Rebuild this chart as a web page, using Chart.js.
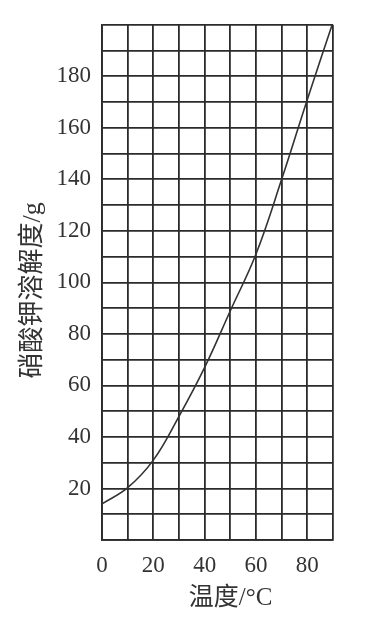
<!DOCTYPE html>
<html>
<head>
<meta charset="utf-8">
<script src="https://cdn.jsdelivr.net/npm/chart.js@4/dist/chart.umd.min.js"></script>
<style>
  html, body { margin: 0; padding: 0; background: #fff; }
  #wrap { width: 368px; height: 619px; position: relative; }
</style>
</head>
<body>
<div id="wrap"><canvas id="c" width="368" height="619"></canvas></div>
<script>
// Data
const temperatures = [0, 10, 20, 30, 40, 50, 60, 70, 80, 90];
const solubility = [14, 20.3, 31, 48, 67, 89, 111, 140, 171, 201];
const xTickLabels = [0, 20, 40, 60, 80];
const yTickLabels = [20, 40, 60, 80, 100, 120, 140, 160, 180];
const xTitle = '温度/°C';
const yTitle = '硝酸钾溶解度/g';

const ink = '#2b2b2b';
const serif = '"Liberation Serif", "DejaVu Serif", "Noto Sans CJK SC", serif';

const titlesPlugin = {
  id: 'axisTitles',
  afterDraw(chart) {
    const ctx = chart.ctx;
    const area = chart.chartArea;
    ctx.save();
    ctx.fillStyle = '#333';
    ctx.textAlign = 'center';
    ctx.textBaseline = 'middle';
    ctx.font = '25px ' + serif;
    ctx.fillText(xTitle, (area.left + area.right) / 2 + 13, 598);
    ctx.font = '26px ' + serif;
    ctx.translate(33, (area.top + area.bottom) / 2 + 8);
    ctx.rotate(-Math.PI / 2);
    ctx.fillText(yTitle, 0, 0);
    ctx.restore();
  }
};

new Chart(document.getElementById('c'), {
  type: 'line',
  data: {
    datasets: [{
      data: temperatures.map((t, i) => ({ x: t, y: solubility[i] })),
      borderColor: '#333',
      borderWidth: 1.6,
      pointRadius: 0,
      fill: false,
      tension: 0.4
    }]
  },
  options: {
    responsive: false,
    animation: false,
    devicePixelRatio: 1,
    layout: { padding: { left: 0, right: 35, top: 22, bottom: 0 } },
    plugins: { legend: { display: false }, tooltip: { enabled: false } },
    scales: {
      x: {
        type: 'linear',
        min: 0, max: 90,
        afterFit(scale) { scale.height = 79; },
        grid: { color: ink, lineWidth: 1.8, drawTicks: false },
        border: { color: ink, width: 1.8 },
        ticks: {
          stepSize: 10,
          autoSkip: false,
          maxRotation: 0,
          padding: 12,
          color: '#333',
          font: { family: serif, size: 23 },
          callback: (v) => xTickLabels.includes(v) ? String(v) : ''
        }
      },
      y: {
        min: 0, max: 200,
        afterFit(scale) { scale.width = 102; },
        grid: { color: ink, lineWidth: 1.8, drawTicks: false },
        border: { color: ink, width: 1.8 },
        ticks: {
          stepSize: 10,
          autoSkip: false,
          padding: 11,
          color: '#333',
          font: { family: serif, size: 23 },
          callback: (v) => yTickLabels.includes(v) ? String(v) : ''
        }
      }
    }
  },
  plugins: [titlesPlugin]
});
</script>
</body>
</html>
